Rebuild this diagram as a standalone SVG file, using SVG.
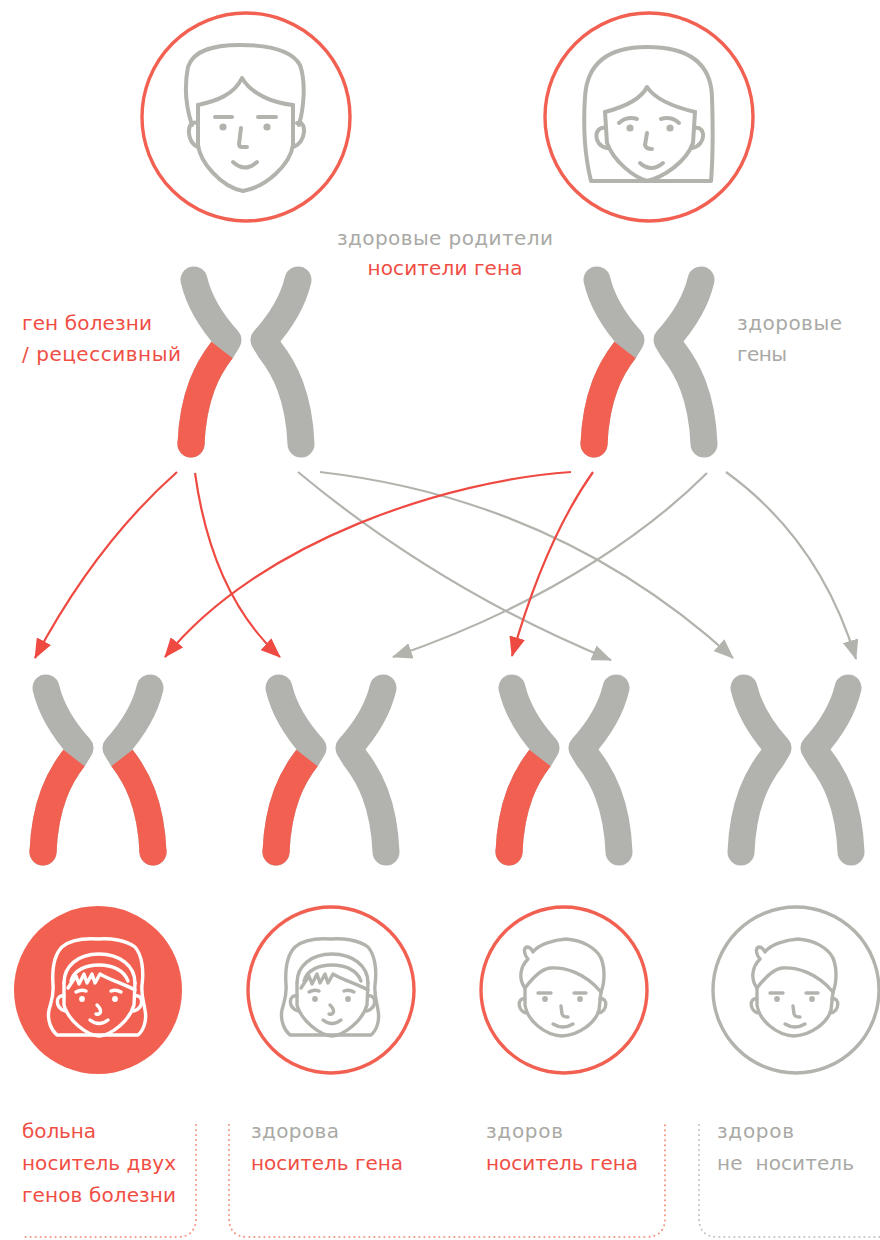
<svg xmlns="http://www.w3.org/2000/svg" xmlns:xlink="http://www.w3.org/1999/xlink" width="880" height="1240" viewBox="0 0 880 1240">
  <style>
    .ring-red { fill: none; stroke: #f26052; stroke-width: 3.4; }
    .ring-gray { fill: none; stroke: #b3b3ae; stroke-width: 3.4; }
    .disc-red { fill: #f26052; }
    .face { fill: none; stroke: currentColor; stroke-linecap: round; stroke-linejoin: round; }
    .face-lg { stroke-width: 4; }
    .face-sm { stroke-width: 3.4; }
    .eye { fill: currentColor; stroke: none; }
    .arm { fill: none; stroke: #b2b2ae; stroke-width: 27; stroke-linecap: round; stroke-linejoin: round; }
    .arm-red { fill: none; stroke: #f26052; stroke-width: 27; stroke-linecap: butt; }
    .cap-red { fill: #f26052; }
    .link { fill: none; stroke-width: 2.2; }
    .link-red { stroke: #ef4a42; }
    .link-gray { stroke: #b3b3ae; }
    .t { font-family: "DejaVu Sans", "Noto Sans", sans-serif; font-size: 20px; }
    .tg { fill: #a9a9a5; }
    .tr { fill: #f04e45; }
    .dots { fill: none; stroke-width: 2.2; stroke-linecap: round; stroke-dasharray: 0 5; }
    .dots-red { stroke: #f49a88; }
    .dots-gray { stroke: #c6c6c2; }
  </style>
  <defs>
    <marker id="head-red" markerUnits="userSpaceOnUse" viewBox="0 0 20 16" markerWidth="20" markerHeight="16" refX="19" refY="8" orient="auto">
      <path d="M0,0 L20,8 L0,16 Z" fill="#ef4a42"/>
    </marker>
    <marker id="head-gray" markerUnits="userSpaceOnUse" viewBox="0 0 20 16" markerWidth="20" markerHeight="16" refX="19" refY="8" orient="auto">
      <path d="M0,0 L20,8 L0,16 Z" fill="#b3b3ae"/>
    </marker>

    <!-- one chromatid, origin at pair centre / top cap -->
    <g id="arm-g">
      <path class="arm" d="M-52,0 Q-45,30 -18,60 L-24,70 C-38,88 -53,115 -55,164"/>
    </g>
    <g id="arm-r">
      <use href="#arm-g"/>
      <path class="arm-red" d="M-24,70 C-38,88 -53,115 -55,164"/>
      <circle class="cap-red" cx="-55" cy="164" r="13.5"/>
    </g>

    <!-- faces, centred on their circle -->
    <g id="face-man" class="face face-lg">
      <path d="M-54,8 C-60,-10 -62,-30 -58,-50 C-52,-68 -30,-72 -6,-72 C20,-72 45,-68 54,-52 C60,-35 58,-10 53,8"/>
      <path d="M-48,-12 C-30,-16 -12,-22 -4,-39 C6,-22 28,-14 47,-12"/>
      <path d="M-48,-12 L-48,28 C-46,45 -25,70 -3,74 C20,70 44,48 47,28 L47,-12"/>
      <path d="M-49,6 C-60,2 -60,26 -48,30"/>
      <path d="M51,6 C61,2 61,26 47,30"/>
      <path d="M-31,0 L-14,0 M12,0 L30,0"/>
      <circle class="eye" cx="-23" cy="10" r="3.6"/>
      <circle class="eye" cx="21" cy="10" r="3.6"/>
      <path d="M-5,11 L-7,27 Q-7,30 -4,30 L1,30"/>
      <path d="M-13,45 Q-1,56 11,45"/>
    </g>
    <g id="face-woman" class="face face-lg">
      <path d="M-58,64 C-64,40 -66,10 -64,-20 C-62,-55 -40,-70 -2,-70 C38,-70 62,-55 63,-20 C64,10 64,40 62,64 Z"/>
      <path d="M-44,-5 C-25,-10 -8,-18 -2,-30 C6,-18 25,-10 46,-5"/>
      <path d="M-44,-5 L-42,26 C-35,45 -15,60 -2,64 C15,60 37,45 44,26 L46,-5"/>
      <path d="M-43,11 C-55,8 -57,28 -42,31"/>
      <path d="M45,11 C57,8 58,28 43,31"/>
      <path d="M-30,6 Q-22,-1 -12,2 M12,2 Q22,-1 30,6"/>
      <circle class="eye" cx="-19" cy="11" r="3.6"/>
      <circle class="eye" cx="21" cy="11" r="3.6"/>
      <path d="M-2,16 L-4,28 Q-3,32 3,32"/>
      <path d="M-9,46 Q2,56 14,46"/>
    </g>
    <g id="face-girl" class="face face-sm">
      <path d="M-41,45 C-47,40 -51,30 -49,20 C-47,12 -44,6 -45,-5 C-46,-20 -44,-35 -36,-43 C-28,-50 -15,-52 0,-51 C12,-52 28,-50 37,-43 C44,-35 46,-20 44,-5 C43,6 46,12 47,20 C49,30 46,40 40,45 Z"/>
      <path d="M-34,-7 C-34,-24 -20,-36 1,-36 C22,-36 37,-24 37,-7"/>
      <path d="M-27,-9 C-24,-20 -12,-25 1,-25 C14,-25 26,-20 30,-9"/>
      <path d="M-34,-7 L-34,15 C-30,30 -12,45 1,46 C14,45 32,30 36,15 L37,-7"/>
      <path d="M-30,-2 L-22,-14 L-19,-6 L-14,-16 L-11,-7 L-6,-16 L-3,-7 L2,-16 C12,-10 26,-6 37,0"/>
      <path d="M-34,6 C-42,4 -44,17 -33,21"/>
      <path d="M37,6 C45,4 47,17 36,21"/>
      <path d="M-22,2 Q-17,-1 -12,1 M13,1 Q18,-1 23,2"/>
      <circle class="eye" cx="-16" cy="9" r="2.9"/>
      <circle class="eye" cx="17" cy="9" r="2.9"/>
      <path d="M-1,15 Q4,20 2,23 Q0,25 -2,24"/>
      <path d="M-8,30 Q1,37 10,30"/>
    </g>
    <g id="face-boy" class="face face-sm">
      <path d="M-39,-2 C-45,-10 -45,-22 -36,-31 C-40,-35 -41,-42 -37,-43 C-34,-43 -32,-40 -31,-38 C-25,-46 -10,-50 2,-51 C18,-50 32,-42 37,-32 C41,-22 41,-8 37,2"/>
      <path d="M-39,-2 C-30,-14 -22,-21 -14,-22 C0,-23 20,-18 37,2"/>
      <path d="M-39,-2 L-39,15 C-37,30 -20,45 -2,46 C16,45 32,32 35,20 L37,2"/>
      <path d="M-39,9 C-47,7 -47,22 -37,23"/>
      <path d="M36,9 C44,7 44,22 34,23"/>
      <path d="M-26,3 L-13,3 M10,3 L22,3"/>
      <circle class="eye" cx="-19" cy="9" r="2.9"/>
      <circle class="eye" cx="16" cy="9" r="2.9"/>
      <path d="M-3,16 L-2,24 Q-1,27 4,27"/>
      <path d="M-11,34 Q-1,40 9,34"/>
    </g>
  </defs>

  <rect width="880" height="1240" fill="#ffffff"/>

  <!-- parents -->
  <g id="father">
    <circle class="ring-red" cx="246" cy="117" r="104"/>
    <use href="#face-man" x="246" y="117" color="#b3b3ae"/>
  </g>
  <g id="mother">
    <circle class="ring-red" cx="649" cy="117" r="104"/>
    <use href="#face-woman" x="649" y="117" color="#b3b3ae"/>
  </g>

  <g id="parents-label">
    <text class="t tg" x="445" y="245" text-anchor="middle" textLength="216" lengthAdjust="spacing">здоровые родители</text>
    <text class="t tr" x="445" y="275" text-anchor="middle" textLength="155" lengthAdjust="spacing">носители гена</text>
  </g>
  <g id="disease-gene-label">
    <text class="t tr" x="22" y="330" textLength="130" lengthAdjust="spacing">ген болезни</text>
    <text class="t tr" x="22" y="361" textLength="159" lengthAdjust="spacing">/ рецессивный</text>
  </g>
  <g id="healthy-gene-label">
    <text class="t tg" x="737" y="330" textLength="105" lengthAdjust="spacing">здоровые</text>
    <text class="t tg" x="737" y="361" textLength="50" lengthAdjust="spacing">гены</text>
  </g>

  <!-- parent chromosomes -->
  <g id="father-chromosome" transform="translate(246,280)">
    <use href="#arm-r"/>
    <use href="#arm-g" transform="scale(-1,1)"/>
  </g>
  <g id="mother-chromosome" transform="translate(649,280)">
    <use href="#arm-r"/>
    <use href="#arm-g" transform="scale(-1,1)"/>
  </g>

  <!-- inheritance connectors -->
  <g id="connectors">
    <path class="link link-gray" d="M298,472 Q440,590 611,660" marker-end="url(#head-gray)"/>
    <path class="link link-gray" d="M320,472 Q560,500 733,658" marker-end="url(#head-gray)"/>
    <path class="link link-gray" d="M707,473 C660,520 560,600 393,657" marker-end="url(#head-gray)"/>
    <path class="link link-gray" d="M726,472 Q820,540 856,659" marker-end="url(#head-gray)"/>
    <path class="link link-red" d="M177,472 Q95,545 35,658" marker-end="url(#head-red)"/>
    <path class="link link-red" d="M195,473 Q212,595 280,657" marker-end="url(#head-red)"/>
    <path class="link link-red" d="M571,472 C450,480 260,540 165,657" marker-end="url(#head-red)"/>
    <path class="link link-red" d="M593,472 Q545,540 512,656" marker-end="url(#head-red)"/>
  </g>

  <!-- children chromosomes -->
  <g id="child1-chromosome" transform="translate(98,688)">
    <use href="#arm-r"/>
    <use href="#arm-r" transform="scale(-1,1)"/>
  </g>
  <g id="child2-chromosome" transform="translate(331,688)">
    <use href="#arm-r"/>
    <use href="#arm-g" transform="scale(-1,1)"/>
  </g>
  <g id="child3-chromosome" transform="translate(564,688)">
    <use href="#arm-r"/>
    <use href="#arm-g" transform="scale(-1,1)"/>
  </g>
  <g id="child4-chromosome" transform="translate(796,688)">
    <use href="#arm-g"/>
    <use href="#arm-g" transform="scale(-1,1)"/>
  </g>

  <!-- children -->
  <g id="child1">
    <circle class="disc-red" cx="98" cy="990" r="84"/>
    <use href="#face-girl" x="98" y="990" color="#ffffff"/>
  </g>
  <g id="child2">
    <circle class="ring-red" cx="331" cy="990" r="83"/>
    <use href="#face-girl" x="331" y="990" color="#b3b3ae"/>
  </g>
  <g id="child3">
    <circle class="ring-red" cx="564" cy="990" r="83"/>
    <use href="#face-boy" x="564" y="990" color="#b3b3ae"/>
  </g>
  <g id="child4">
    <circle class="ring-gray" cx="796" cy="990" r="83"/>
    <use href="#face-boy" x="796" y="990" color="#b3b3ae"/>
  </g>

  <!-- captions -->
  <g id="child1-label">
    <text class="t tr" x="22" y="1138" textLength="74" lengthAdjust="spacing">больна</text>
    <text class="t tr" x="22" y="1170" textLength="154" lengthAdjust="spacing">носитель двух</text>
    <text class="t tr" x="22" y="1202" textLength="154" lengthAdjust="spacing">генов болезни</text>
  </g>
  <g id="child2-label">
    <text class="t tg" x="251" y="1138" textLength="88" lengthAdjust="spacing">здорова</text>
    <text class="t tr" x="251" y="1170" textLength="152" lengthAdjust="spacing">носитель гена</text>
  </g>
  <g id="child3-label">
    <text class="t tg" x="486" y="1138" textLength="77" lengthAdjust="spacing">здоров</text>
    <text class="t tr" x="486" y="1170" textLength="152" lengthAdjust="spacing">носитель гена</text>
  </g>
  <g id="child4-label">
    <text class="t tg" x="717" y="1138" textLength="77" lengthAdjust="spacing">здоров</text>
    <text class="t tg" x="717" y="1170" textLength="137" lengthAdjust="spacing" xml:space="preserve">не  носитель</text>
  </g>

  <!-- dotted brackets under the captions -->
  <g id="brackets">
    <path class="dots dots-red" d="M196,1125 L196,1218 Q196,1237 177,1237 L22,1237"/>
    <path class="dots dots-red" d="M229,1125 L229,1218 Q229,1237 248,1237 L646,1237 Q665,1237 665,1218 L665,1125"/>
    <path class="dots dots-gray" d="M699,1125 L699,1218 Q699,1237 718,1237 L880,1237"/>
  </g>
</svg>
